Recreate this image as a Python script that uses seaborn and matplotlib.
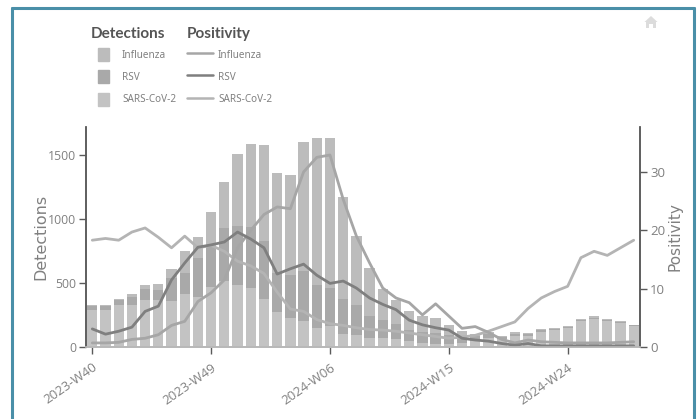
import matplotlib
matplotlib.use("Agg")
import matplotlib.pyplot as plt
import seaborn as sns
import pandas as pd
from matplotlib.patches import Patch, Polygon
from matplotlib.lines import Line2D

weeks = [f"2023-W{w}" for w in range(40, 53)] + [f"2024-W{w:02d}" for w in range(1, 30)]
tick_labels = ["2023-W40", "2023-W49", "2024-W06", "2024-W15", "2024-W24"]

total_top = [330,330,374,411,481,491,608,751,858,1058,1290,1505,1586,1578,1362,1344,1604,1630,1630,1170,868,616,455,369,283,239,226,169,122,101,114,88,114,109,140,148,166,221,239,221,203,174]
rsv_top = [322,322,364,390,455,447,538,582,699,785,933,949,941,832,582,562,590,481,460,374,328,239,213,177,130,114,109,96,70,88,100,80,103,100,130,140,158,210,230,212,195,168]
sars_det = [286,291,325,330,367,369,359,413,387,468,515,481,458,374,270,226,200,148,161,104,96,70,70,62,44,31,26,26,30,50,70,60,85,85,120,130,150,200,222,202,188,162]

# Positivity
flu_pos = [0.7,0.7,0.8,1.3,1.5,2.1,3.7,4.4,7.8,9.3,11.5,17.0,20.0,22.7,24.0,23.7,30.0,32.5,32.9,25.3,19.0,14.4,10.1,8.4,7.6,5.5,7.4,5.3,3.2,3.5,2.5,1.3,0.7,1.2,0.9,0.8,0.7,0.7,0.7,0.7,0.8,0.9]
rsv_pos = [3.1,2.2,2.7,3.4,6.1,7.0,11.5,14.4,17.1,17.5,18.0,19.7,18.5,17.0,12.5,13.4,14.2,12.3,10.9,11.3,10.1,8.4,7.3,6.4,4.6,3.8,3.3,2.9,1.5,1.2,1.0,0.6,0.3,0.6,0.2,0.2,0.2,0.2,0.2,0.2,0.2,0.2]
sars_pos = [18.3,18.6,18.3,19.7,20.4,18.8,17.0,19.0,17.0,17.4,16.4,14.7,13.9,12.6,9.4,6.5,6.1,4.7,4.0,3.7,3.3,3.0,2.9,2.7,2.4,2.1,1.8,1.5,1.7,2.0,2.7,3.5,4.3,6.6,8.4,9.5,10.4,15.3,16.4,15.7,17.0,18.3]

FLU_BAR, RSV_BAR, SARS_BAR = "#bcbcbc", "#a9a9a9", "#c3c3c3"
FLU_LINE, RSV_LINE, SARS_LINE = "#a6a6a6", "#7f7f7f", "#b4b4b4"
TXT = "#808080"
AX = "#5a5a5a"

sns.set_theme(style="white", rc={"font.family": ["Open Sans", "DejaVu Sans"]})
df = pd.DataFrame(dict(week=weeks, total=total_top, rsv=rsv_top, sars=sars_det))

fig = plt.figure(figsize=(7.0, 4.19), dpi=100, facecolor="white")
W, H = 700, 419
ax = fig.add_axes([85.7/W, 1-347/H, (640.3-85.7)/W, (347-127)/H])

w = 0.78
bar_kw = dict(x="week", saturation=1, width=w, ax=ax, order=weeks, edgecolor="none", linewidth=0)
sns.barplot(data=df, y="total", color=FLU_BAR, **bar_kw)
sns.barplot(data=df, y="rsv", color=RSV_BAR, **bar_kw)
sns.barplot(data=df, y="sars", color=SARS_BAR, **bar_kw)
ax.set_xlim(-0.5, 41.5)
ax.set_ylim(0, 1719)
ax.set_yticks([0, 500, 1000, 1500])
ax.set_xticks([weeks.index(t) for t in tick_labels])
ax.set_xticklabels(tick_labels, rotation=35, ha="right", rotation_mode="anchor")
ax.set_xlabel("")
ax.set_ylabel("Detections", color=TXT, fontsize=11.5, family="DejaVu Sans")
ax.yaxis.set_label_coords((48 - 85.7) / 554.6, 0.5)

ax2 = ax.twinx()
ax2.set_position(ax.get_position())
xs = list(range(len(weeks)))
sns.lineplot(x=xs, y=sars_pos, color=SARS_LINE, lw=2, ax=ax2, errorbar=None)
sns.lineplot(x=xs, y=flu_pos, color=FLU_LINE, lw=2, ax=ax2, errorbar=None)
sns.lineplot(x=xs, y=rsv_pos, color=RSV_LINE, lw=2, ax=ax2, errorbar=None)
ax2.set_ylim(0, 37.7)
ax2.set_xlim(-0.5, 41.5)
ax2.set_yticks([0, 10, 20, 30])
ax2.set_ylabel("Positivity", color=TXT, fontsize=11, family="DejaVu Sans", labelpad=2)

for a in (ax, ax2):
    a.spines["top"].set_visible(False)
    a.spines["left"].set_color(AX)
    a.spines["right"].set_color(AX)
    a.spines["left"].set_linewidth(1.1)
    a.spines["right"].set_linewidth(1.1)
    a.spines["bottom"].set_color("#b8b8b8")
    a.spines["bottom"].set_linewidth(1.2)
ax.tick_params(axis="y", left=True, length=5, width=1, color=AX, labelcolor=TXT, labelsize=8.8, pad=2)
ax.tick_params(axis="x", bottom=True, length=5, width=1, color=AX, labelcolor=TXT, labelsize=9.5, pad=5, direction="out")
ax2.tick_params(axis="y", right=True, length=5, width=1, color=AX, labelcolor=TXT, labelsize=9.5, pad=2)

# Panel border, open at the bottom
c = "#4a8fa8"
for (x0, y0, x1, y1) in [(12, 8, 693.5, 8), (12, 8, 12, 419), (693.5, 8, 693.5, 419)]:
    fig.add_artist(Line2D([x0/W, x1/W], [1-y0/H, 1-y1/H], color=c, lw=2.2, transform=fig.transFigure))

# Legends
series = ["Influenza", "RSV", "SARS-CoV-2"]
leg_kw = dict(loc="upper left", prop={"family": "Noto Sans", "size": 7.2}, handleheight=1.6, frameon=False,
              labelcolor=TXT, labelspacing=0.95, borderpad=0, borderaxespad=0)
h1 = [Patch(color=x) for x in (FLU_BAR, RSV_BAR, SARS_BAR)]
fig.legend(h1, series, bbox_to_anchor=(98/W, 1-48/H), handlelength=1.1, handletextpad=1.3, **leg_kw)
h2 = [Line2D([], [], color=x, lw=1.8) for x in (FLU_LINE, RSV_LINE, SARS_LINE)]
fig.legend(h2, series, bbox_to_anchor=(187/W, 1-48/H), handlelength=2.6, handletextpad=0.5, **leg_kw)
for label, xpos in (("Detections", 91), ("Positivity", 187)):
    fig.text(xpos/W, 1-34/H, label, color="#555555", fontsize=11, weight="bold", family="Lato",
             ha="left", va="center")

# Home icon
house = [(651, 16), (657.5, 22), (656, 22), (656, 28), (653, 28), (653, 24), (649, 24), (649, 28), (646, 28), (646, 22), (644.5, 22)]
fig.add_artist(Polygon([(x/W, 1-y/H) for x, y in house], closed=True, facecolor="#dcdcdc",
                       edgecolor="none", transform=fig.transFigure))

fig.savefig("out.png", dpi=100)
